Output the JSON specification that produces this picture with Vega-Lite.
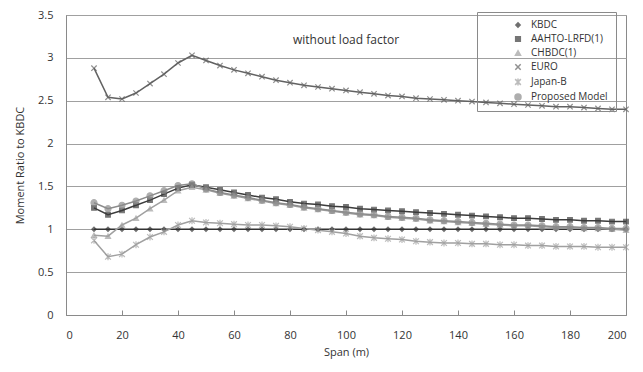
{
  "$schema": "https://vega.github.io/schema/vega-lite/v6.json",
  "width": 560,
  "height": 300,
  "autosize": {"type": "none"},
  "padding": {"left": 66, "top": 15, "right": 17, "bottom": 57},
  "background": "white",
  "config": {
    "font": "Open Sans",
    "view": {"stroke": "#8a8a8a", "strokeWidth": 1}
  },
  "title": {"text": "without load factor", "orient": "top", "anchor": "middle", "offset": -38, "fontSize": 12, "fontWeight": "normal", "color": "#333333", "font": "Open Sans"},
  "datasets": {
    "d": [
      {"span":10,"KBDC":1.0,"AASHTO":1.25,"CHBDC":0.93,"EURO":2.88,"Japan":0.87,"Proposed":1.31},
      {"span":15,"KBDC":1.0,"AASHTO":1.17,"CHBDC":0.92,"EURO":2.54,"Japan":0.68,"Proposed":1.24},
      {"span":20,"KBDC":1.0,"AASHTO":1.22,"CHBDC":1.05,"EURO":2.52,"Japan":0.71,"Proposed":1.28},
      {"span":25,"KBDC":1.0,"AASHTO":1.28,"CHBDC":1.13,"EURO":2.59,"Japan":0.82,"Proposed":1.33},
      {"span":30,"KBDC":1.0,"AASHTO":1.34,"CHBDC":1.24,"EURO":2.70,"Japan":0.91,"Proposed":1.39},
      {"span":35,"KBDC":1.0,"AASHTO":1.41,"CHBDC":1.34,"EURO":2.81,"Japan":0.97,"Proposed":1.45},
      {"span":40,"KBDC":1.0,"AASHTO":1.48,"CHBDC":1.45,"EURO":2.94,"Japan":1.05,"Proposed":1.51},
      {"span":45,"KBDC":1.0,"AASHTO":1.52,"CHBDC":1.49,"EURO":3.03,"Japan":1.10,"Proposed":1.53},
      {"span":50,"KBDC":1.0,"AASHTO":1.49,"CHBDC":1.46,"EURO":2.97,"Japan":1.08,"Proposed":1.47},
      {"span":55,"KBDC":1.0,"AASHTO":1.46,"CHBDC":1.42,"EURO":2.91,"Japan":1.07,"Proposed":1.43},
      {"span":60,"KBDC":1.0,"AASHTO":1.43,"CHBDC":1.39,"EURO":2.86,"Japan":1.06,"Proposed":1.40},
      {"span":65,"KBDC":1.0,"AASHTO":1.40,"CHBDC":1.36,"EURO":2.82,"Japan":1.05,"Proposed":1.37},
      {"span":70,"KBDC":1.0,"AASHTO":1.37,"CHBDC":1.33,"EURO":2.78,"Japan":1.05,"Proposed":1.34},
      {"span":75,"KBDC":1.0,"AASHTO":1.35,"CHBDC":1.30,"EURO":2.74,"Japan":1.04,"Proposed":1.31},
      {"span":80,"KBDC":1.0,"AASHTO":1.32,"CHBDC":1.28,"EURO":2.71,"Japan":1.03,"Proposed":1.29},
      {"span":85,"KBDC":1.0,"AASHTO":1.30,"CHBDC":1.25,"EURO":2.68,"Japan":1.01,"Proposed":1.26},
      {"span":90,"KBDC":1.0,"AASHTO":1.29,"CHBDC":1.23,"EURO":2.66,"Japan":0.99,"Proposed":1.24},
      {"span":95,"KBDC":1.0,"AASHTO":1.27,"CHBDC":1.21,"EURO":2.64,"Japan":0.97,"Proposed":1.22},
      {"span":100,"KBDC":1.0,"AASHTO":1.26,"CHBDC":1.19,"EURO":2.62,"Japan":0.95,"Proposed":1.20},
      {"span":105,"KBDC":1.0,"AASHTO":1.24,"CHBDC":1.17,"EURO":2.60,"Japan":0.92,"Proposed":1.18},
      {"span":110,"KBDC":1.0,"AASHTO":1.23,"CHBDC":1.16,"EURO":2.58,"Japan":0.90,"Proposed":1.17},
      {"span":115,"KBDC":1.0,"AASHTO":1.22,"CHBDC":1.14,"EURO":2.56,"Japan":0.89,"Proposed":1.15},
      {"span":120,"KBDC":1.0,"AASHTO":1.21,"CHBDC":1.13,"EURO":2.55,"Japan":0.88,"Proposed":1.14},
      {"span":125,"KBDC":1.0,"AASHTO":1.20,"CHBDC":1.12,"EURO":2.53,"Japan":0.86,"Proposed":1.13},
      {"span":130,"KBDC":1.0,"AASHTO":1.19,"CHBDC":1.10,"EURO":2.52,"Japan":0.85,"Proposed":1.11},
      {"span":135,"KBDC":1.0,"AASHTO":1.18,"CHBDC":1.09,"EURO":2.51,"Japan":0.84,"Proposed":1.10},
      {"span":140,"KBDC":1.0,"AASHTO":1.17,"CHBDC":1.08,"EURO":2.50,"Japan":0.84,"Proposed":1.09},
      {"span":145,"KBDC":1.0,"AASHTO":1.16,"CHBDC":1.07,"EURO":2.49,"Japan":0.83,"Proposed":1.08},
      {"span":150,"KBDC":1.0,"AASHTO":1.15,"CHBDC":1.06,"EURO":2.48,"Japan":0.83,"Proposed":1.07},
      {"span":155,"KBDC":1.0,"AASHTO":1.14,"CHBDC":1.05,"EURO":2.47,"Japan":0.82,"Proposed":1.06},
      {"span":160,"KBDC":1.0,"AASHTO":1.13,"CHBDC":1.04,"EURO":2.46,"Japan":0.82,"Proposed":1.05},
      {"span":165,"KBDC":1.0,"AASHTO":1.13,"CHBDC":1.04,"EURO":2.45,"Japan":0.81,"Proposed":1.05},
      {"span":170,"KBDC":1.0,"AASHTO":1.12,"CHBDC":1.03,"EURO":2.44,"Japan":0.81,"Proposed":1.04},
      {"span":175,"KBDC":1.0,"AASHTO":1.11,"CHBDC":1.02,"EURO":2.43,"Japan":0.80,"Proposed":1.03},
      {"span":180,"KBDC":1.0,"AASHTO":1.11,"CHBDC":1.02,"EURO":2.43,"Japan":0.80,"Proposed":1.03},
      {"span":185,"KBDC":1.0,"AASHTO":1.10,"CHBDC":1.01,"EURO":2.42,"Japan":0.80,"Proposed":1.02},
      {"span":190,"KBDC":1.0,"AASHTO":1.10,"CHBDC":1.01,"EURO":2.41,"Japan":0.79,"Proposed":1.02},
      {"span":195,"KBDC":1.0,"AASHTO":1.09,"CHBDC":1.00,"EURO":2.40,"Japan":0.79,"Proposed":1.01},
      {"span":200,"KBDC":1.0,"AASHTO":1.09,"CHBDC":0.99,"EURO":2.40,"Japan":0.79,"Proposed":1.01}
    ]
  },
  "data": {"name": "d"},
  "transform": [
    {"fold": ["KBDC", "AASHTO", "CHBDC", "EURO", "Japan", "Proposed"], "as": ["key", "ratio"]},
    {"lookup": "key", "from": {"data": {"values": [
      {"key": "KBDC", "series": "KBDC"},
      {"key": "AASHTO", "series": "AAHTO-LRFD(1)"},
      {"key": "CHBDC", "series": "CHBDC(1)"},
      {"key": "EURO", "series": "EURO"},
      {"key": "Japan", "series": "Japan-B"},
      {"key": "Proposed", "series": "Proposed Model"}
    ]}, "key": "key", "fields": ["series"]}}
  ],
  "encoding": {
    "x": {
      "field": "span", "type": "quantitative",
      "scale": {"domain": [0, 200], "nice": false},
      "axis": {
        "title": "Span (m)", "values": [0,20,40,60,80,100,120,140,160,180,200],
        "grid": false, "domainColor": "#8a8a8a", "tickColor": "#8a8a8a", "tickSize": -5,
        "labelPadding": 19, "labelFontSize": 11, "labelColor": "#333333",
        "titleFontSize": 11, "titleFontWeight": "normal", "titleColor": "#333333", "titlePadding": 6
      }
    },
    "y": {
      "field": "ratio", "type": "quantitative",
      "scale": {"domain": [0, 3.5], "nice": false},
      "axis": {
        "title": "Moment Ratio to KBDC", "values": [0,0.5,1,1.5,2,2.5,3,3.5],
        "labelExpr": "toString(datum.value)",
        "grid": true, "gridColor": "#a0a0a0", "ticks": false, "domainColor": "#8a8a8a",
        "labelPadding": 13, "labelFontSize": 11, "labelColor": "#333333",
        "titleFontSize": 11, "titleFontWeight": "normal", "titleColor": "#333333", "titlePadding": 12
      }
    },
    "color": {
      "field": "series", "type": "nominal",
      "scale": {
        "domain": ["KBDC", "AAHTO-LRFD(1)", "CHBDC(1)", "EURO", "Japan-B", "Proposed Model"],
        "range": ["#333333", "#3c3c3c", "#a0a0a0", "#626262", "#a0a0a0", "#8c8c8c"]
      },
      "legend": {
        "title": null, "orient": "none", "legendX": 411, "legendY": -3,
        "strokeColor": "#8a8a8a", "fillColor": null, "padding": 8,
        "symbolOffset": 28, "labelOffset": 8, "rowPadding": 2,
        "labelFontSize": 10, "labelColor": "#333333", "symbolSize": 30, "labelLimit": 200
      }
    }
  },
  "layer": [
    {"mark": {"type": "line", "strokeWidth": 1.5}},
    {
      "mark": {"type": "point", "filled": true, "strokeWidth": 1.2},
      "encoding": {
        "stroke": {
          "field": "series", "type": "nominal",
          "scale": {
            "domain": ["KBDC", "AAHTO-LRFD(1)", "CHBDC(1)", "EURO", "Japan-B", "Proposed Model"],
            "range": ["#333333", "#3c3c3c", "#a0a0a0", "#626262", "#a0a0a0", "#8c8c8c"]
          },
          "legend": null
        },
        "shape": {
          "field": "series", "type": "nominal",
          "scale": {
            "domain": ["KBDC", "AAHTO-LRFD(1)", "CHBDC(1)", "EURO", "Japan-B", "Proposed Model"],
            "range": ["diamond", "square", "triangle-up", "M-1,-1L1,1M1,-1L-1,1", "M-1,-1L1,1M1,-1L-1,1M0,-1.2L0,1.2", "circle"]
          }
        },
        "size": {
          "field": "series", "type": "nominal",
          "scale": {
            "domain": ["KBDC", "AAHTO-LRFD(1)", "CHBDC(1)", "EURO", "Japan-B", "Proposed Model"],
            "range": [18, 36, 28, 30, 30, 42]
          },
          "legend": null
        }
      }
    }
  ]
}
